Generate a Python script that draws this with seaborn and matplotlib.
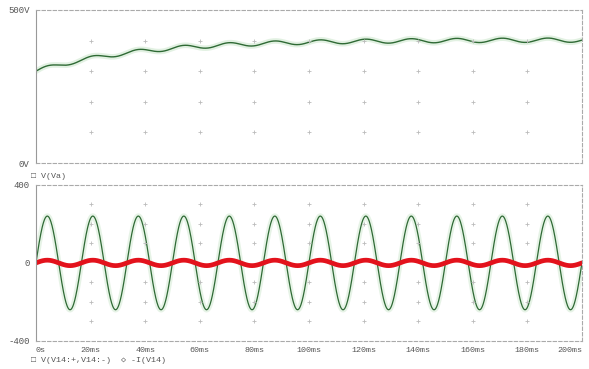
import numpy as np
import pandas as pd
import seaborn as sns
import matplotlib.pyplot as plt

# values
t_ms = np.arange(0, 200.01, 0.1)          # simulation time axis (ms)
line_freq_hz = 60.0                        # 12 cycles over 200 ms
va_final = 402.0                           # V(Va) settles near 402 V
va_start = 300.0                           # V(Va) at t = 0
va_tau_ms = 38.0                           # rise time constant
va_ripple = 7.0                            # ripple amplitude on V(Va)
v14_peak = 240.0                           # V(V14:+,V14:-) peak
i14_peak = 14.0                            # -I(V14) peak

x_ticks = [0, 20, 40, 60, 80, 100, 120, 140, 160, 180, 200]
x_labels = ['0s', '20ms', '40ms', '60ms', '80ms', '100ms', '120ms',
            '140ms', '160ms', '180ms', '200ms']
top_ticks = [0, 500]
top_labels = ['0V', '500V']
bot_ticks = [-400, 0, 400]
bot_labels = ['-400', '0', '400']

w = 2 * np.pi * line_freq_hz * t_ms / 1000.0
va = va_final - (va_final - va_start) * np.exp(-t_ms / va_tau_ms) + va_ripple * np.sin(w)
df = pd.DataFrame({'t': t_ms, 'va': va,
                   'v14': v14_peak * np.sin(w),
                   'i14': i14_peak * np.sin(w)})

sns.set_style('white')
mono = ['Liberation Mono', 'DejaVu Sans Mono']
plt.rcParams['font.family'] = mono

fig = plt.figure(figsize=(5.89, 3.69), dpi=100)
ax1 = fig.add_axes([0.061, 0.558, 0.927, 0.415])
ax2 = fig.add_axes([0.061, 0.076, 0.927, 0.423])

green = '#2f6a35'
halo = '#cfe8cf'

sns.lineplot(data=df, x='t', y='va', ax=ax1, color=halo, linewidth=4, alpha=0.6)
sns.lineplot(data=df, x='t', y='va', ax=ax1, color=green, linewidth=1.0)

sns.lineplot(data=df, x='t', y='v14', ax=ax2, color=halo, linewidth=4, alpha=0.5)
sns.lineplot(data=df, x='t', y='v14', ax=ax2, color=green, linewidth=0.9)
sns.lineplot(data=df, x='t', y='i14', ax=ax2, color='#e3121c', linewidth=3.4)

def frame(ax, ylim, yticks, ylabels, grid_levels, show_x):
    ax.set_xlim(0, 200)
    ax.set_ylim(*ylim)
    ax.set_xlabel('')
    ax.set_ylabel('')
    ax.set_yticks(yticks)
    ax.set_yticklabels(ylabels, fontsize=6.5, color='#555555')
    ax.set_xticks(x_ticks)
    if show_x:
        labels = ax.set_xticklabels(x_labels, fontsize=6, color='#555555')
        labels[0].set_horizontalalignment('left')
        labels[-1].set_horizontalalignment('right')
    else:
        ax.set_xticklabels([])
    ax.tick_params(length=3, width=0.6, color='#999999', pad=1.5)
    for side in ['top', 'bottom', 'right']:
        ax.spines[side].set_linestyle((0, (3, 2)))
        ax.spines[side].set_color('#aaaaaa')
        ax.spines[side].set_linewidth(0.8)
    ax.spines['left'].set_color('#999999')
    ax.spines['left'].set_linewidth(0.8)
    gx, gy = np.meshgrid(x_ticks[1:-1], grid_levels)
    ax.plot(gx.ravel(), gy.ravel(), linestyle='none', marker='+',
            markersize=3, color='#bbbbbb', markeredgewidth=0.6)

frame(ax1, (0, 500), top_ticks, top_labels, [100, 200, 300, 400], False)
frame(ax2, (-400, 400), bot_ticks, bot_labels,
      [-300, -200, -100, 100, 200, 300], True)

fig.text(0.052, 0.522, '\u25a1 V(Va)', fontsize=6, color='#555555',
         va='center', family=mono)
fig.text(0.052, 0.024, '\u25a1 V(V14:+,V14:-)  \u25c7 -I(V14)', fontsize=6,
         color='#555555', va='center', family=mono)

plt.savefig('out.png', dpi=100)
